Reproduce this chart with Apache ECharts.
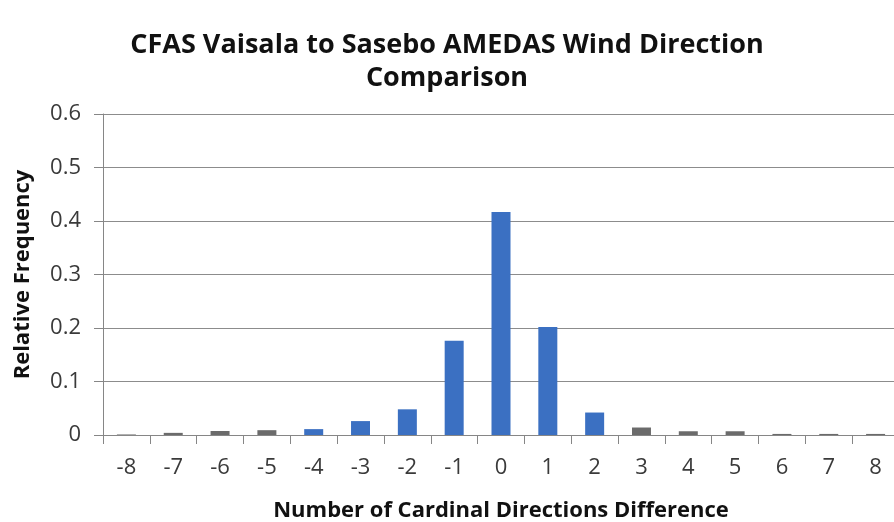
<!DOCTYPE html>
<html>
<head>
<meta charset="utf-8">
<style>
    html, body{ margin: 0; padding: 0; background: #fff;}
    #chart1{ width: 894px; height: 522px;}
</style>
<script src="https://cdn.jsdelivr.net/npm/echarts@6/dist/echarts.min.js"></script>
</head>
<body>
<div id="chart1"></div>
<script>
    // categories: number of cardinal directions difference
    var directions = ['-8', '-7', '-6', '-5', '-4', '-3', '-2', '-1', '0', '1', '2', '3', '4', '5', '6', '7', '8'];
    // relative frequency
    var frequency = [0.001, 0.004, 0.0075, 0.009, 0.011, 0.026, 0.048, 0.176, 0.417, 0.202, 0.042, 0.014, 0.007, 0.007, 0.002, 0.002, 0.002];
    // bars that come out grey in the reference
    var greyBars = ['-8', '-7', '-6', '-5', '3', '4', '5', '6', '7', '8'];
    var yTicks = [0, 0.1, 0.2, 0.3, 0.4, 0.5, 0.6];

    var font = 'Open Sans';
    var chart = echarts.init(document.getElementById('chart1'));
    chart.setOption({
        animation: false,
        backgroundColor: '#ffffff',
        title: {
            text: 'CFAS Vaisala to Sasebo AMEDAS Wind Direction\nComparison',
            left: 'center',
            top: 24,
            textStyle: {fontFamily: font, fontWeight: 'bold', fontSize: 27, color: '#111', lineHeight: 33}
        },
        grid: {left: 103, right: -5, top: 114, bottom: 87, outerBoundsMode: 'none'},
        xAxis: {
            type: 'category',
            data: directions,
            name: 'Number of Cardinal Directions Difference',
            nameLocation: 'middle',
            nameGap: 65,
            nameTextStyle: {fontFamily: font, fontWeight: 'bold', fontSize: 22, color: '#111'},
            axisLine: {lineStyle: {color: '#868686', width: 1}},
            axisTick: {show: true, length: 9, lineStyle: {color: '#868686'}},
            axisLabel: {fontFamily: font, fontSize: 22, color: '#3a3a3a', margin: 22}
        },
        yAxis: {
            type: 'value',
            min: yTicks[0],
            max: yTicks[yTicks.length - 1],
            interval: 0.1,
            name: 'Relative Frequency',
            nameLocation: 'middle',
            nameGap: 69,
            nameTextStyle: {fontFamily: font, fontWeight: 'bold', fontSize: 22, color: '#111'},
            axisLine: {show: true, lineStyle: {color: '#868686'}},
            axisTick: {show: true, length: 9, lineStyle: {color: '#868686'}},
            splitLine: {lineStyle: {color: '#8c8c8c', width: 1}},
            axisLabel: {fontFamily: font, fontSize: 22, color: '#3a3a3a', margin: 22,
                formatter: function (v) { return v === 0 ? '0' : v.toFixed(1); }}
        },
        series: [{
            type: 'bar',
            data: frequency,
            barWidth: 19,
            itemStyle: {
                color: function (p) {
                    return greyBars.indexOf(directions[p.dataIndex]) >= 0 ? '#6b6b6b' : '#3b70c2';
                }
            }
        }]
    });
</script>
</body>
</html>
